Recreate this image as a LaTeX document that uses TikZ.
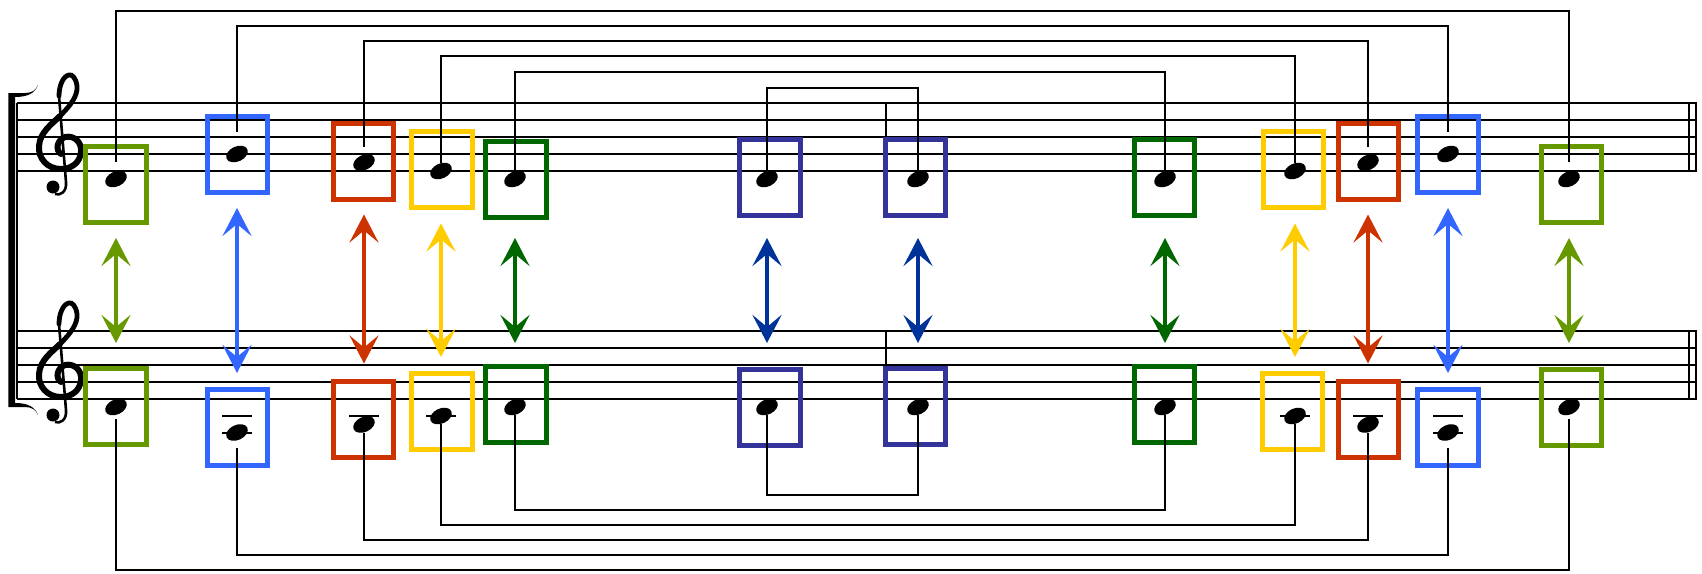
\documentclass[tikz,border=0pt]{standalone}
\usepackage{tikz}
\usetikzlibrary{arrows.meta,shapes.geometric}
\definecolor{leaf}{HTML}{669900}
\definecolor{sky}{HTML}{3366FF}
\definecolor{rust}{HTML}{CC3300}
\definecolor{gold}{HTML}{FFCC00}
\definecolor{forest}{HTML}{006600}
\definecolor{indigo}{HTML}{333399}
\definecolor{navy}{HTML}{003399}
\begin{document}
\begin{tikzpicture}
  [x=0.5pt,y=-0.5pt,
   staff/.style={line width=1pt},
   link/.style={line width=1pt},
   box/.style={draw,line width=2.5pt,minimum width=30.25pt,minimum height=38pt,inner sep=0pt},
   head/.style={ellipse,fill=black,inner sep=0pt,minimum width=11.4pt,minimum height=7.5pt,rotate=25},
   twoway/.style={{Stealth[length=14pt,width=14.5pt,inset=6pt]}-{Stealth[length=14pt,width=14.5pt,inset=6pt]},line width=2pt}]
  \useasboundingbox (0,0) rectangle (1702,573);
  % staves
  \foreach \y in {103,120,137,154,171,331,348,365,382,399}
    \draw[staff] (17,\y) -- (1697,\y);
  \draw[staff] (17,103) -- (17,399);
  \foreach \x in {1689,1696}{
    \draw[staff] (\x,103) -- (\x,171);
    \draw[staff] (\x,331) -- (\x,399);
  }
  \draw[staff] (886,103) -- (886,137);
  \draw[staff] (886,331) -- (886,365);
  % bracket
  \fill (8.3,407) -- (8.3,93) -- (25,93) .. controls (32,93) and (36,90) .. (38,85)
    .. controls (35,93) and (28,97) .. (15,97) -- (15,403)
    .. controls (28,403) and (35,407) .. (38,415)
    .. controls (36,410) and (32,407) .. (25,407) -- cycle;
  % clefs
  \foreach \dy in {0,228}{
    \begin{scope}[shift={(0,\dy)}]
      \draw[line width=3pt,line cap=round] (61,154) .. controls (55,150) and (57,140) .. (65,137)
        .. controls (75,135) and (82,143) .. (81,152)
        .. controls (80,163) and (71,169) .. (61,169)
        .. controls (47,169) and (38,158) .. (39,146)
        .. controls (40,132) and (52,124) .. (60,116);
      \draw[line width=2.4pt,line cap=round] (60,116) .. controls (70,106) and (78,96) .. (77,86)
        .. controls (76,78) and (72,74) .. (69,75)
        .. controls (63,76) and (59,86) .. (59,96);
      \draw[line width=1.3pt] (59,96) -- (66,182) .. controls (67,192) and (60,196) .. (55,194);
      \fill (53,187) circle[radius=6.5];
    \end{scope}
  }
  % boxes
  \foreach \k/\x/\y/\col in {1/116/184.5/leaf, 2/237.5/154.5/sky, 3/363.5/161.5/rust,
      4/442/169.5/gold, 5/516/179/forest, 6/770/177/indigo, 7/915.5/177/indigo,
      8/1164.5/177.7/forest, 9/1293.5/169.7/gold, 10/1368.5/161.8/rust,
      11/1448/154/sky, 12/1571.5/184.5/leaf}
    \node[box,draw=\col] (ta\k) at (\x,\y) {};
  \foreach \k/\x/\y/\col in {1/116/406/leaf, 2/237.5/427/sky, 3/363.5/419/rust,
      4/442/411/gold, 5/516/404/forest, 6/770/407/indigo, 7/915.5/406/indigo,
      8/1164.5/404/forest, 9/1292.5/411/gold, 10/1368.5/419.5/rust,
      11/1448/427/sky, 12/1571.5/407.5/leaf}
    \node[box,draw=\col] (ba\k) at (\x,\y) {};
  % notes
  \foreach \k/\x/\y/\z in {1/116/179/407, 2/237/154/432.5, 3/364/162.5/424.5,
      4/441/171/416, 5/515/179/407, 6/767/179/407, 7/918/179/407, 8/1165/179/407,
      9/1295/171/416, 10/1368/162.5/424.5, 11/1448/154/432.5, 12/1569/179/407}{
    \node[head] (tn\k) at (\x,\y) {};
    \node[head] (bn\k) at (\x,\z) {};
  }
  % ledger lines
  \foreach \x in {237,364,441,1295,1368,1448}
    \draw[staff] (\x-15,416) -- (\x+15,416);
  \foreach \x in {237,1448}
    \draw[staff] (\x-15,433) -- (\x+15,433);
  % links between mirrored notes
  \foreach \i/\j/\h/\g in {1/12/11/17, 2/11/25.5/22, 3/10/41/15.5, 4/9/56/8, 5/8/72/9, 6/7/88/8}{
    \coordinate (ov) at (0,\h);
    \draw[link] ([shift={(0,-\g)}]tn\i.center) -- (tn\i |- ov) -| ([shift={(0,-\g)}]tn\j.center);
  }
  \foreach \i/\j/\h/\g in {1/12/570/12, 2/11/555/15.5, 3/10/540/8.5, 4/9/525/8, 5/8/510/8, 6/7/495/8}{
    \coordinate (un) at (0,\h);
    \draw[link] ([shift={(0,\g)}]bn\i.center) -- (bn\i |- un) -| ([shift={(0,\g)}]bn\j.center);
  }
  % arrows
  \foreach \k/\col/\a/\b in {1/leaf/6.5/11.25, 2/sky/6.5/6.75, 3/rust/6.25/7.5, 4/gold/6.75/6.75,
      5/forest/9.25/10.25, 6/navy/10.25/11.75, 7/navy/10.25/11.25, 8/forest/9.9/10.25,
      9/gold/6.65/6.75, 10/rust/6.1/7.75, 11/sky/6.75/6.75, 12/leaf/6.5/12}
    \draw[twoway,\col,shorten <=\a pt,shorten >=\b pt] (tn\k |- ta\k.south) -- (bn\k |- ba\k.north);
\end{tikzpicture}
\end{document}
